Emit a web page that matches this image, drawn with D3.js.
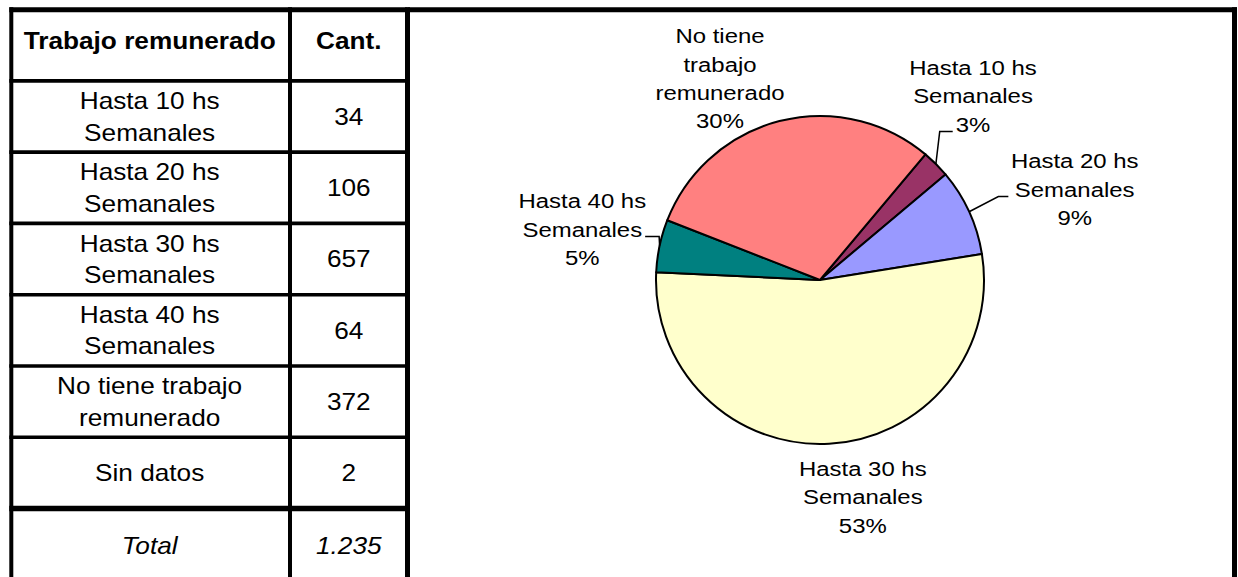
<!DOCTYPE html>
<html>
<head>
<meta charset="utf-8">
<script src="https://cdn.jsdelivr.net/npm/d3@7"></script>
<style>
  html, body { margin: 0; padding: 0; background: #fff; }
  svg { display: block; font-family: "Liberation Sans", Arial, sans-serif; }
</style>
</head>
<body>
<svg id="chart" width="1238" height="577"></svg>
<script>
// ---- data ----
var tableHeader = ["Trabajo remunerado", "Cant."];
var tableLabels = [
  ["Hasta 10 hs", "Semanales"],
  ["Hasta 20 hs", "Semanales"],
  ["Hasta 30 hs", "Semanales"],
  ["Hasta 40 hs", "Semanales"],
  ["No tiene trabajo", "remunerado"],
  ["Sin datos"]
];
var counts = [34, 106, 657, 64, 372, 2];
var totalLabel = "Total";

// the pie leaves out "Sin datos"
var pieLabels = [
  ["Hasta 10 hs", "Semanales"],
  ["Hasta 20 hs", "Semanales"],
  ["Hasta 30 hs", "Semanales"],
  ["Hasta 40 hs", "Semanales"],
  ["No tiene", "trabajo", "remunerado"]
];
var pieValues = counts.slice(0, 5);
var sliceColors = ["#993366", "#9999FF", "#FFFFCC", "#008080", "#FF8080"];

// ---- layout ----
var svg = d3.select("#chart");
var stretch = 1.14;   // the text in the original is a little wide
var esFormat = d3.formatLocale({ decimal: ",", thousands: ".", grouping: [3], currency: ["$", ""] }).format(",d");

function addText(g, x, y, str, size, opts) {
  opts = opts || {};
  var t = g.append("text")
    .attr("transform", "translate(" + x + "," + y + ") scale(" + stretch + ",1)")
    .attr("text-anchor", opts.anchor || "middle")
    .style("font-size", size + "px")
    .style("fill", "#000")
    .text(str);
  if (opts.bold) t.style("font-weight", "bold");
  if (opts.italic) t.style("font-style", "italic");
  return t;
}

// table
var table = svg.append("g").attr("class", "table");
var colX = [11.3, 290, 407.5];
var rowY = d3.scaleLinear().domain([0, 7]).range([9.7, 508.5]);
var nRows = tableLabels.length + 2;
var col1 = (colX[0] + colX[1]) / 2 - 1;
var col2 = (colX[1] + colX[2]) / 2;

d3.range(0, 8).forEach(function (i) {
  table.append("line")
    .attr("x1", colX[0] - 2).attr("x2", colX[2])
    .attr("y1", rowY(i)).attr("y2", rowY(i))
    .style("stroke", "#000")
    .style("stroke-width", i == 0 ? 5 : (i == 7 ? 5.5 : 3.7));
});
colX.forEach(function (x, i) {
  table.append("line")
    .attr("x1", x).attr("x2", x)
    .attr("y1", rowY(0) - 2.5).attr("y2", 577)
    .style("stroke", "#000")
    .style("stroke-width", i == 2 ? 5 : 4);
});

addText(table, col1, 49, tableHeader[0], 23, { bold: true });
addText(table, col2, 49, tableHeader[1], 23, { bold: true });

tableLabels.forEach(function (lines, i) {
  var c = (rowY(i + 1) + rowY(i + 2)) / 2;
  if (lines.length == 2) {
    addText(table, col1, c - 7.5, lines[0], 23);
    addText(table, col1, c + 24, lines[1], 23);
  } else {
    addText(table, col1, c + 8.3, lines[0], 23);
  }
  addText(table, col2, c + 8.3, esFormat(counts[i]), 23);
});
var total = d3.sum(counts);
addText(table, col1, 553.5, totalLabel, 23, { italic: true });
addText(table, col2, 553.5, esFormat(total), 23, { italic: true });

// chart box
var box = svg.append("g").attr("class", "box");
box.append("line")
  .attr("x1", colX[2]).attr("x2", 1237)
  .attr("y1", rowY(0)).attr("y2", rowY(0))
  .style("stroke", "#000").style("stroke-width", 5);
box.append("line")
  .attr("x1", 1234.5).attr("x2", 1234.5)
  .attr("y1", rowY(0) - 2.5).attr("y2", 577)
  .style("stroke", "#000").style("stroke-width", 5);

// pie
var cx = 820, cy = 280, radius = 164;
var startDeg = 40;
var pieSum = d3.sum(pieValues);
var pct = d3.format(".0%");

var pie = d3.pie().sort(null)
  .startAngle(startDeg * Math.PI / 180)
  .endAngle(startDeg * Math.PI / 180 + 2 * Math.PI);
var arc = d3.arc().innerRadius(0).outerRadius(radius);
var arcs = pie(pieValues);

var pieG = svg.append("g").attr("transform", "translate(" + cx + "," + cy + ")");
pieG.selectAll("path.slice")
  .data(arcs)
  .enter().append("path")
  .attr("class", "slice")
  .attr("d", arc)
  .style("fill", function (d, i) { return sliceColors[i]; })
  .style("stroke", "#000")
  .style("stroke-width", 2)
  .style("stroke-linejoin", "round");

// label anchor = centre x and first baseline, relative to pie centre
var labelPos = [[153, -205], [254.7, -111.7], [42.8, 196], [-237.7, -71.7], [-100, -236.7]];
var leaders = [
  { line: 2, side: "left", gap: 3, elbow: -13 },
  { line: 1, side: "left", gap: 6.5, elbow: -10 },
  null,
  { line: 1, side: "right", gap: 3, elbow: 14 },
  null
];
var lineGap = 28.3;

arcs.forEach(function (d, i) {
  var lines = pieLabels[i].concat([pct(d.value / pieSum)]);
  var lx = labelPos[i][0], ly = labelPos[i][1];
  var widths = lines.map(function (s, k) {
    var t = addText(pieG, lx, ly + k * lineGap, s, 21);
    return t.node().getComputedTextLength() * stretch;
  });
  var ld = leaders[i];
  if (ld) {
    var a = (d.startAngle + d.endAngle) / 2;
    var p0 = [radius * Math.sin(a), -radius * Math.cos(a)];
    var yy = ly + ld.line * lineGap;
    var ex = ld.side == "left" ? lx - widths[ld.line] / 2 - ld.gap : lx + widths[ld.line] / 2 + ld.gap;
    var pts = [p0, [ex + ld.elbow, yy], [ex, yy]];
    pieG.append("path")
      .attr("d", d3.line()(pts))
      .style("fill", "none")
      .style("stroke", "#000")
      .style("stroke-width", 1.5);
  }
});
</script>
</body>
</html>
